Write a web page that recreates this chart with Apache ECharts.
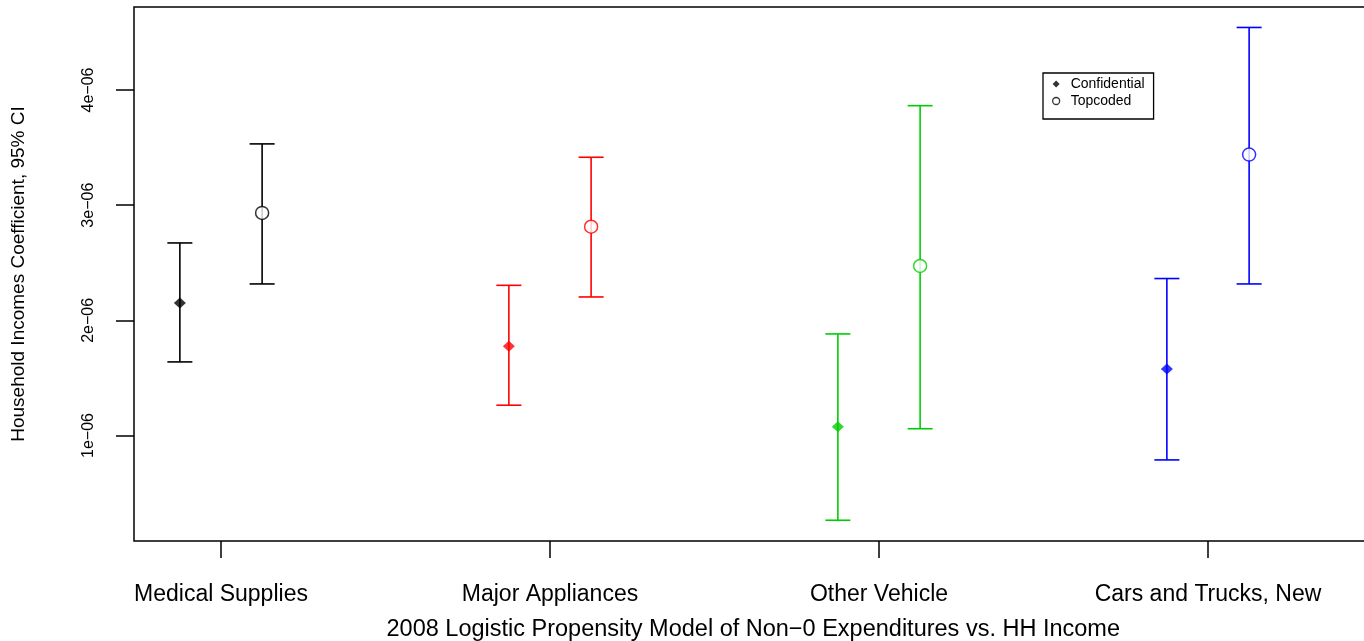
<!DOCTYPE html>
<html>
<head>
<meta charset="utf-8">
<script src="https://cdn.jsdelivr.net/npm/echarts@6/dist/echarts.min.js"></script>
<style>
html,body{margin:0;padding:0;background:#fff;}
#chart{width:1364px;height:641px;}
</style>
</head>
<body>
<div id="chart"></div>
<script>
// ---- data ----
const categories = ['Medical Supplies', 'Major Appliances', 'Other Vehicle', 'Cars and Trucks, New'];
const categoryColors = ['#000000', '#ff0000', '#00cd00', '#0000ff'];
const confEst  = [2.151e-6, 1.774e-6, 1.077e-6, 1.578e-6];
const confLow  = [1.639e-6, 1.263e-6, 0.264e-6, 0.788e-6];
const confHigh = [2.672e-6, 2.304e-6, 1.882e-6, 2.363e-6];
const topEst   = [2.933e-6, 2.813e-6, 2.472e-6, 3.439e-6];
const topLow   = [2.316e-6, 2.203e-6, 1.059e-6, 2.316e-6];
const topHigh  = [3.532e-6, 3.416e-6, 3.864e-6, 4.543e-6];
const yTickValues = [1e-6, 2e-6, 3e-6, 4e-6];
const yTickLabels = ['1e\u221206', '2e\u221206', '3e\u221206', '4e\u221206'];
const seriesNames = ['Confidential', 'Topcoded'];
const xTitle = '2008 Logistic Propensity Model of Non\u22120 Expenditures vs. HH Income';
const yTitle = 'Household Incomes Coefficient, 95% CI';

// ---- build ----
const SHIFT = 0.125;
const FONT = '"Liberation Sans", Arial, Helvetica, sans-serif';
const catPos = categories.map((c, i) => i + 1);

const confBars = categories.map((c, i) => [catPos[i] - SHIFT, confLow[i], confHigh[i], i]);
const topBars = categories.map((c, i) => [catPos[i] + SHIFT, topLow[i], topHigh[i], i]);

const confPoints = categories.map((c, i) => ({
  value: [catPos[i] - SHIFT, confEst[i]],
  itemStyle: { color: categoryColors[i] }
}));
const topPoints = categories.map((c, i) => ({
  value: [catPos[i] + SHIFT, topEst[i]],
  itemStyle: { color: '#ffffff', borderColor: categoryColors[i], borderWidth: 1.5 }
}));

function renderBar(params, api) {
  const x = api.value(0);
  const lo = api.coord([x, api.value(1)]);
  const hi = api.coord([x, api.value(2)]);
  const col = categoryColors[api.value(3)];
  const hw = 12.5;
  const st = { stroke: col, lineWidth: 1.6, fill: null };
  return {
    type: 'group',
    children: [
      { type: 'line', shape: { x1: lo[0], y1: lo[1], x2: hi[0], y2: hi[1] }, style: st },
      { type: 'line', shape: { x1: lo[0] - hw, y1: lo[1], x2: lo[0] + hw, y2: lo[1] }, style: st },
      { type: 'line', shape: { x1: hi[0] - hw, y1: hi[1], x2: hi[0] + hw, y2: hi[1] }, style: st }
    ]
  };
}

const chart = echarts.init(document.getElementById('chart'), null, { renderer: 'canvas' });
chart.setOption({
  animation: false,
  backgroundColor: '#ffffff',
  textStyle: { fontFamily: FONT },
  grid: {
    left: 134, top: 7, bottom: 100, right: -8.5,
    show: true, borderColor: '#000', borderWidth: 1.5,
    containLabel: false, outerBoundsMode: 'none'
  },
  legend: {
    orient: 'vertical',
    left: 1043, top: 73,
    padding: [4, 9, 11, 9],
    itemGap: 3,
    itemWidth: 7, itemHeight: 7,
    borderColor: '#000', borderWidth: 1.3,
    backgroundColor: '#fff',
    textStyle: { fontFamily: FONT, fontSize: 14, color: '#000', lineHeight: 14, padding: [0, 0, 0, 6] },
    data: [
      { name: seriesNames[0], icon: 'diamond', itemStyle: { color: '#000', borderWidth: 0 } },
      { name: seriesNames[1], icon: 'circle', itemStyle: { color: '#fff', borderColor: '#000', borderWidth: 1.3 } }
    ]
  },
  xAxis: {
    type: 'value',
    min: 0.7356, max: 4.5,
    name: xTitle,
    nameLocation: 'middle',
    nameGap: 77,
    nameTextStyle: { fontFamily: FONT, fontSize: 23.5, color: '#000' },
    axisLine: { show: false },
    splitLine: { show: false },
    axisTick: { show: true, length: 17, customValues: catPos, lineStyle: { color: '#000', width: 1.5 } },
    axisLabel: {
      customValues: catPos, margin: 42,
      fontFamily: FONT, fontSize: 23, color: '#000',
      formatter: v => categories[Math.round(v) - 1] || ''
    }
  },
  yAxis: {
    type: 'value',
    min: 0.0840e-6, max: 4.7207e-6,
    name: yTitle,
    nameLocation: 'middle',
    nameGap: 106,
    nameTextStyle: { fontFamily: FONT, fontSize: 19, color: '#000' },
    axisLine: { show: false },
    splitLine: { show: false },
    axisTick: { show: true, length: 18, customValues: yTickValues, lineStyle: { color: '#000', width: 1.5 } },
    axisLabel: {
      customValues: yTickValues, margin: 37, rotate: 90,
      fontFamily: FONT, fontSize: 16, color: '#000',
      formatter: v => {
        const k = yTickValues.findIndex(t => Math.abs(t - v) < 1e-9);
        return k >= 0 ? yTickLabels[k] : '';
      }
    }
  },
  series: [
    { type: 'custom', name: 'confBars', renderItem: renderBar, data: confBars, z: 2, silent: true,
      encode: { x: 0, y: [1, 2] } },
    { type: 'custom', name: 'topBars', renderItem: renderBar, data: topBars, z: 2, silent: true,
      encode: { x: 0, y: [1, 2] } },
    { type: 'scatter', name: seriesNames[0], symbol: 'diamond', symbolSize: [12, 11],
      itemStyle: { color: '#000' }, data: confPoints, z: 5 },
    { type: 'scatter', name: seriesNames[1], symbol: 'circle', symbolSize: 13,
      itemStyle: { color: '#fff', borderColor: '#000', borderWidth: 1.5 }, data: topPoints, z: 5 }
  ]
});
</script>
</body>
</html>
